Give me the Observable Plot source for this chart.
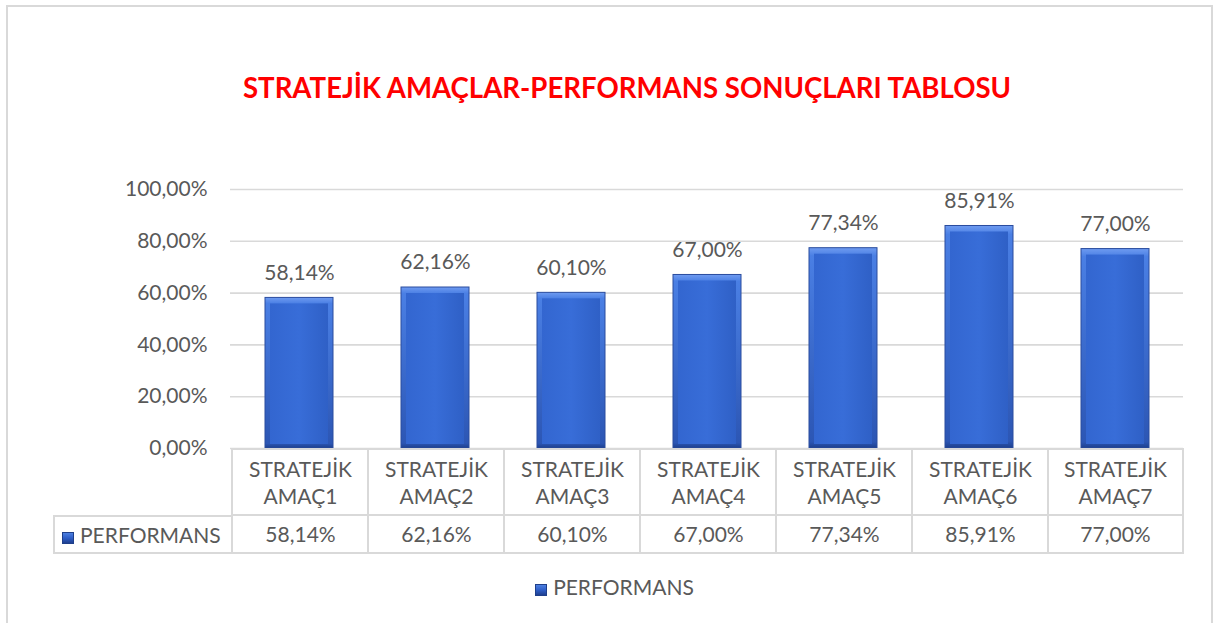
<!DOCTYPE html>
<html>
<head>
<meta charset="utf-8">
<script src="https://cdn.jsdelivr.net/npm/d3@7"></script>
<script src="https://cdn.jsdelivr.net/npm/@observablehq/plot@0.6"></script>
<style>
  body { margin:0; background:#fff; font-family: Lato, "Open Sans", sans-serif; }
  #frame { position:absolute; left:6px; top:5px; width:1207px; height:640px; border:2px solid #d9d9d9; box-sizing:border-box; }
  #title { position:absolute; left:227px; width:800px; top:71px; text-align:center; color:#ff0000; font-weight:700; font-size:27.6px; white-space:nowrap; }
  #plot { position:absolute; left:0; top:0; }
  .cell { position:absolute; box-sizing:border-box; color:#595959; font-size:21px; text-align:center; display:flex; flex-direction:column; justify-content:center; align-items:center; line-height:27px; }
  .key { display:inline-block; width:12px; height:12px; background:linear-gradient(180deg,#4d7fe0 0%,#2f5fc8 50%,#1f3f90 100%); border:1px solid #1f3f8a; box-sizing:border-box; margin-right:6px; vertical-align:middle; }
  #legend { position:absolute; top:574px; left:8px; width:1213px; text-align:center; color:#595959; font-size:21px; }
</style>
</head>
<body>
<div id="frame"></div>
<div id="title">STRATEJİK AMAÇLAR-PERFORMANS SONUÇLARI TABLOSU</div>
<div id="plot"></div>
<div id="table"></div>
<div id="legend"></div>
<script>
// ---- data ----
const categories = ["STRATEJİK AMAÇ1","STRATEJİK AMAÇ2","STRATEJİK AMAÇ3","STRATEJİK AMAÇ4","STRATEJİK AMAÇ5","STRATEJİK AMAÇ6","STRATEJİK AMAÇ7"];
const performans = [0.5814, 0.6216, 0.6010, 0.6700, 0.7734, 0.8591, 0.7700];
const seriesName = "PERFORMANS";
const yTicks = [0, 0.2, 0.4, 0.6, 0.8, 1.0];

const trLocale = d3.formatLocale({decimal: ",", thousands: ".", grouping: [3], currency: ["", "₺"]});
const pct = trLocale.format(".2%");

const data = categories.map((c, i) => ({cat: c, value: performans[i]}));

const plot = Plot.plot({
  width: 1213,
  height: 470,
  marginLeft: 230,
  marginRight: 30,
  marginTop: 189,
  marginBottom: 22,
  style: {fontFamily: "Lato, 'Open Sans', sans-serif", fontSize: "21px", color: "#595959", background: "transparent", overflow: "visible"},
  x: {domain: categories, paddingInner: 0.5, paddingOuter: 0.25, axis: null},
  y: {domain: [0, 1], ticks: yTicks, tickFormat: pct, tickSize: 0, tickPadding: 23, label: null},
  marks: [
    Plot.gridY(yTicks, {stroke: "#d9d9d9", strokeOpacity: 1, strokeWidth: 1.6}),
    Plot.axisY(yTicks, {tickFormat: pct, tickSize: 0, tickPadding: 23, fill: "#595959", fontSize: 21, label: null}),
    Plot.barY(data, {x: "cat", y: "value", fill: "url(#barGrad)", stroke: "#2a4c9e", strokeWidth: 1}),
    Plot.barY(data, {x: "cat", y: "value", fill: "url(#barGradV)", insetLeft: 5, insetRight: 5, insetTop: 6, insetBottom: 4}),
    Plot.text(data, {x: "cat", y: "value", text: d => pct(d.value), dy: -25, fill: "#595959", fontSize: 21})
  ]
});

// gradient defs for the beveled bars
const ns = "http://www.w3.org/2000/svg";
const defs = document.createElementNS(ns, "defs");
defs.innerHTML = `
  <linearGradient id="barGrad" x1="0" x2="0" y1="0" y2="1">
    <stop offset="0" stop-color="#6f9bf0"/>
    <stop offset="0.04" stop-color="#4a7fe4"/>
    <stop offset="0.97" stop-color="#2c56b4"/>
    <stop offset="1" stop-color="#1d3f8c"/>
  </linearGradient>
  <linearGradient id="barGradV" x1="0" x2="1" y1="0" y2="0">
    <stop offset="0" stop-color="#3366d0"/>
    <stop offset="0.5" stop-color="#386dd8"/>
    <stop offset="1" stop-color="#2f60c6"/>
  </linearGradient>`;
plot.insertBefore(defs, plot.firstChild);
document.getElementById("plot").appendChild(plot);

// ---- data table beneath the plot, aligned with the x scale ----
const xs = plot.scale("x");
const step = xs.step, bw = xs.bandwidth;
const tableTop = 448, row1 = 67, row2 = 38;
const tableLeft = 53;
const gridColor = "#d9d9d9";
const table = document.getElementById("table");
function cell(left, top, w, h, html, borders) {
  const d = document.createElement("div");
  d.className = "cell";
  Object.assign(d.style, {left: left + "px", top: top + "px", width: w + "px", height: h + "px"});
  d.style.borderLeft = borders.l ? `2px solid ${gridColor}` : "none";
  d.style.borderTop = borders.t ? `2px solid ${gridColor}` : "none";
  d.style.borderRight = borders.r ? `2px solid ${gridColor}` : "none";
  d.style.borderBottom = borders.b ? `2px solid ${gridColor}` : "none";
  d.innerHTML = html;
  table.appendChild(d);
  return d;
}
const firstColLeft = xs.apply(categories[0]) - (step - bw) / 2;
categories.forEach((c, i) => {
  const left = xs.apply(c) - (step - bw) / 2;
  const parts = c.split(" ");
  cell(left, tableTop, step + 1, row1 + 1, parts.join("<br>"), {l: true, t: true, r: i === categories.length - 1, b: true});
  cell(left, tableTop + row1, step + 1, row2 + 1, pct(performans[i]), {l: true, t: false, r: i === categories.length - 1, b: true});
});
const lab = cell(tableLeft, tableTop + row1, firstColLeft - tableLeft + 1, row2 + 1,
  `<span><span class="key"></span>${seriesName}</span>`, {l: true, t: true, r: false, b: true});
lab.style.justifyContent = "center";
lab.style.alignItems = "flex-start";
lab.style.paddingLeft = "7px";

document.getElementById("legend").innerHTML = `<span class="key"></span>${seriesName}`;
</script>
</body>
</html>
